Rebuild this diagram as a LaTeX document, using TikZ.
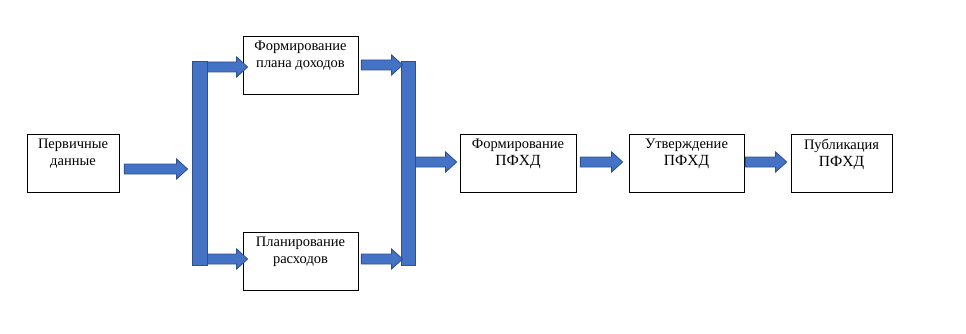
\documentclass[tikz,border=0pt]{standalone}
\usepackage{fontspec}
\setmainfont{Liberation Serif}
\usetikzlibrary{calc}
\definecolor{afill}{HTML}{4472C4}
\definecolor{aborder}{HTML}{2F528F}
\newcommand\blkarrow[2]{%
  \path let \p1=(#1), \p2=(#2) in [draw=aborder, fill=afill, line width=0.9pt, line join=miter]
    (\x1,\y1+5pt) -- (\x2-11pt,\y1+5pt) -- (\x2-11pt,\y1+10pt) -- (\x2,\y1)
    -- (\x2-11pt,\y1-10pt) -- (\x2-11pt,\y1-5pt) -- (\x1,\y1-5pt) -- cycle;}
\begin{document}
\begin{tikzpicture}[x=1pt,y=-1pt,
  box/.style={draw=black, line width=0.8pt, minimum height=58pt, inner sep=0pt},
  txt/.style={anchor=north, align=center, inner sep=0pt, font=\fontsize{14.5}{17}\selectfont},
  bar/.style={draw=aborder, fill=afill, line width=0.9pt, minimum height=204pt, inner sep=0pt}]
\useasboundingbox (0,0) rectangle (966,334);
\node[box, minimum width=92pt] (n1) at (73,163) {};
\node[box, minimum width=115pt] (n2) at (300.5,65) {};
\node[box, minimum width=115pt] (n3) at (300.5,261) {};
\node[box, minimum width=116pt] (n4) at (518,163) {};
\node[box, minimum width=115pt] (n5) at (686.5,163) {};
\node[box, minimum width=101pt] (n6) at (841.5,163) {};
\node[txt] (t1) at ($(n1.north)+(0,5)$) {Первичные\\данные};
\node[txt] (t2) at ($(n2.north)+(0,5)$) {Формирование\\плана доходов};
\node[txt] (t3) at ($(n3.north)+(0,5)$) {Планирование\\расходов};
\node[txt] (t4) at ($(n4.north)+(0,5)$) {Формирование\\{\fontsize{15.5}{17}\selectfont ПФХД}};
\node[txt] (t5) at ($(n5.north)+(0,5)$) {Утверждение\\{\fontsize{15.5}{17}\selectfont ПФХД}};
\node[txt] (t6) at ($(n6.north)+(0,5)$) {Публикация\\{\fontsize{15.5}{17}\selectfont ПФХД}};
\node[bar, minimum width=15pt] (b1) at (199.5,163) {};
\node[bar, minimum width=14pt] (b2) at (408,163) {};
\coordinate (a1s) at ($(n1.east)+(5,6)$);
\coordinate (a1e) at ($(b1.west)+(-4,6)$);
\coordinate (a2s) at ($(b1.east)+(0,-96)$);
\coordinate (a2e) at ($(n2.west)+(5,2)$);
\coordinate (a3s) at ($(b1.east)+(0,96)$);
\coordinate (a3e) at ($(n3.west)+(5,-2)$);
\coordinate (a4s) at ($(n2.east)+(3,0)$);
\coordinate (a4e) at ($(b2.west)+(2,-98)$);
\coordinate (a5s) at ($(n3.east)+(3,-2)$);
\coordinate (a5e) at ($(b2.west)+(2,96)$);
\coordinate (a6s) at ($(b2.east)+(0,-1)$);
\coordinate (a6e) at ($(n4.west)+(-3,-1)$);
\coordinate (a7s) at ($(n4.east)+(4,-1)$);
\coordinate (a7e) at ($(n5.west)+(-6,-1)$);
\coordinate (a8s) at ($(n5.east)+(1,-1)$);
\coordinate (a8e) at ($(n6.west)+(-4,-1)$);
\blkarrow{a1s}{a1e}
\blkarrow{a2s}{a2e}
\blkarrow{a3s}{a3e}
\blkarrow{a4s}{a4e}
\blkarrow{a5s}{a5e}
\blkarrow{a6s}{a6e}
\blkarrow{a7s}{a7e}
\blkarrow{a8s}{a8e}
\end{tikzpicture}
\end{document}
